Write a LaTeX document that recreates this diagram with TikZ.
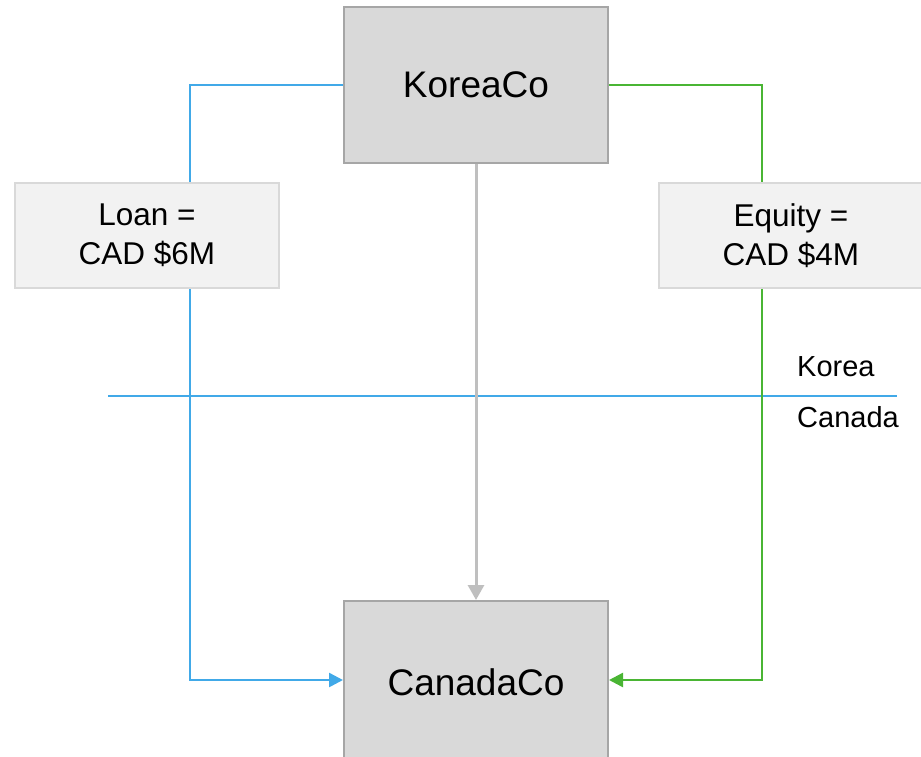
\documentclass[tikz,border=0pt]{standalone}
\usepackage{fontspec}
\setmainfont{Liberation Sans}
\usetikzlibrary{arrows.meta}
\definecolor{boxfill}{HTML}{D9D9D9}
\definecolor{boxline}{HTML}{A6A6A6}
\definecolor{notefill}{HTML}{F2F2F2}
\definecolor{noteline}{HTML}{D9D9D9}
\definecolor{loanblue}{HTML}{41A9E8}
\definecolor{equitygreen}{HTML}{4AB534}
\definecolor{flowgray}{HTML}{BFBFBF}
\tikzset{
  x=1pt, y=-1pt,
  company/.style={draw=boxline, fill=boxfill, line width=2pt, minimum width=264pt, minimum height=156pt, inner sep=0pt, font=\fontsize{37}{44}\selectfont},
  note/.style={draw=noteline, fill=notefill, line width=2pt, minimum width=264pt, minimum height=105pt, inner sep=0pt, align=center, font=\fontsize{31.5}{39}\selectfont},
  flow/.style={line width=2.5pt, -{Triangle[length=14pt,width=14pt]}},
  plain/.style={line width=2.5pt},
  region/.style={anchor=west, inner sep=0pt, font=\fontsize{29}{34}\selectfont}
}
\begin{document}
\begin{tikzpicture}
\useasboundingbox (0,0) rectangle (921,756);
% companies
\node[company] (korea) at (476,85) {KoreaCo};
\node[company, minimum height=162pt] (canada) at (476,682) {CanadaCo};
% connector corners
\coordinate (lt) at (190,85);
\coordinate (lb) at (190,680);
\coordinate (rt) at (762,85);
\coordinate (rb) at (762,680);
% border line between the two countries
\coordinate (bl) at (108,396);
\coordinate (br) at (897,396);
\draw[plain, loanblue] (bl) -- (br);
% gray flow
\draw[flow, flowgray, line width=3pt, -{Triangle[length=15pt,width=16pt]}] (korea.south) -- (canada.north);
% loan path
\draw[flow, loanblue] (korea.west |- lt) -- (lt) -- (lb) -- (canada.west |- lb);
% equity path
\draw[flow, equitygreen] (korea.east |- rt) -- (rt) -- (rb) -- (canada.east |- rb);
% notes
\node[note] (loan) at (147,235.5) {Loan =\\CAD \$6M};
\node[note] (equity) at (791,235.5) {Equity =\\CAD \$4M};
% region labels
\node[region] (kr) at (797,367) {Korea};
\node[region] (ca) at (797,417) {Canada};
\end{tikzpicture}
\end{document}
